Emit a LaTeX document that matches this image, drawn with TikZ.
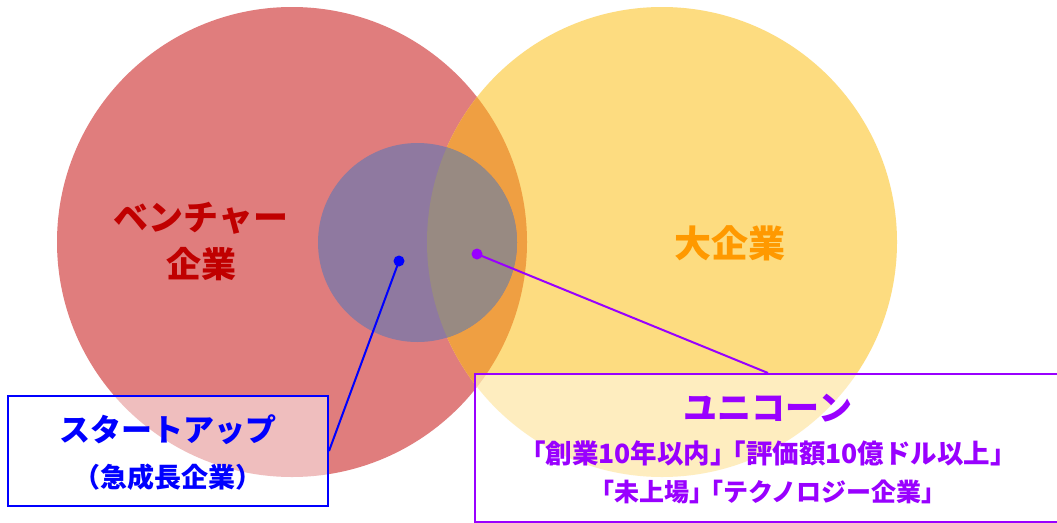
\documentclass[tikz,border=0pt]{standalone}
\usepackage{fontspec}
\setmainfont{Noto Sans CJK JP}
\definecolor{vred}{HTML}{E07D7D}
\definecolor{vyel}{HTML}{FDDC80}
\definecolor{vora}{HTML}{EF9F42}
\definecolor{vpur}{HTML}{8F79A0}
\definecolor{vgry}{HTML}{988A82}
\definecolor{tred}{HTML}{C00000}
\definecolor{tora}{HTML}{FF9900}
\definecolor{tblue}{HTML}{0000FF}
\definecolor{tpur}{HTML}{9900FF}
\newcommand{\brk}{\kern-0.65em}
\tikzset{
  lbl/.style={font=\bfseries\fontsize{#1}{#1}\selectfont, inner sep=0pt},
  lblbox/.style={draw=#1, line width=2pt, fill=white, fill opacity=0.5, inner sep=0pt},
  dotmark/.style={circle, fill=#1, inner sep=0pt, minimum size=11pt},
  conn/.style={draw=#1, line width=2pt},
}
\begin{document}
\begin{tikzpicture}[x=1pt,y=-1pt]
\clip (0,0) rectangle (1057,522);
\fill[white] (0,0) rectangle (1057,522);
% circles
\fill[vred] (292,242) circle[radius=235];
\fill[vyel] (662,242) circle[radius=235];
\begin{scope}
  \clip (292,242) circle[radius=235];
  \fill[vora] (662,242) circle[radius=235];
\end{scope}
\fill[vpur] (417.5,242.5) circle[radius=99.5];
\begin{scope}
  \clip (662,242) circle[radius=235];
  \fill[vgry] (417.5,242.5) circle[radius=99.5];
\end{scope}
% labels in circles
\node[lbl=35, text=tred] (venture1) at (201,218) {ベンチャー};
\node[lbl=35, text=tred] (venture2) at (201,264) {企業};
\node[lbl=37, text=tora] (large) at (730,243) {大企業};
% boxes
\node[lblbox=tblue, minimum width=320pt, minimum height=110pt] (sbox) at (168,451) {};
\node[lblbox=tpur, anchor=north west, minimum width=600pt, minimum height=148pt] (ubox) at (474,373) {};
% dots and connectors
\node[dotmark=tblue] (sdot) at (399,261) {};
\node[dotmark=tpur] (udot) at (477,254) {};
\coordinate (uend) at (768,373);
\draw[conn=tblue] (sdot.center) -- (sbox.east);
\draw[conn=tpur] (udot.center) -- (uend);
% box texts
\node[lbl=31, text=tblue] (st1) at (168,430) {スタートアップ};
\node[lbl=27, text=tblue] (st2) at (168,477) {（急成長企業）};
\node[lbl=34, text=tpur] (un1) at (768,408) {ユニコーン};
\node[lbl=26.5, text=tpur] (un2) at (768,453) {「創業10年以内」\brk「評価額10億ドル以上」};
\node[lbl=25, text=tpur] (un3) at (768,492) {「未上場」\brk「テクノロジー企業」};
\end{tikzpicture}
\end{document}
